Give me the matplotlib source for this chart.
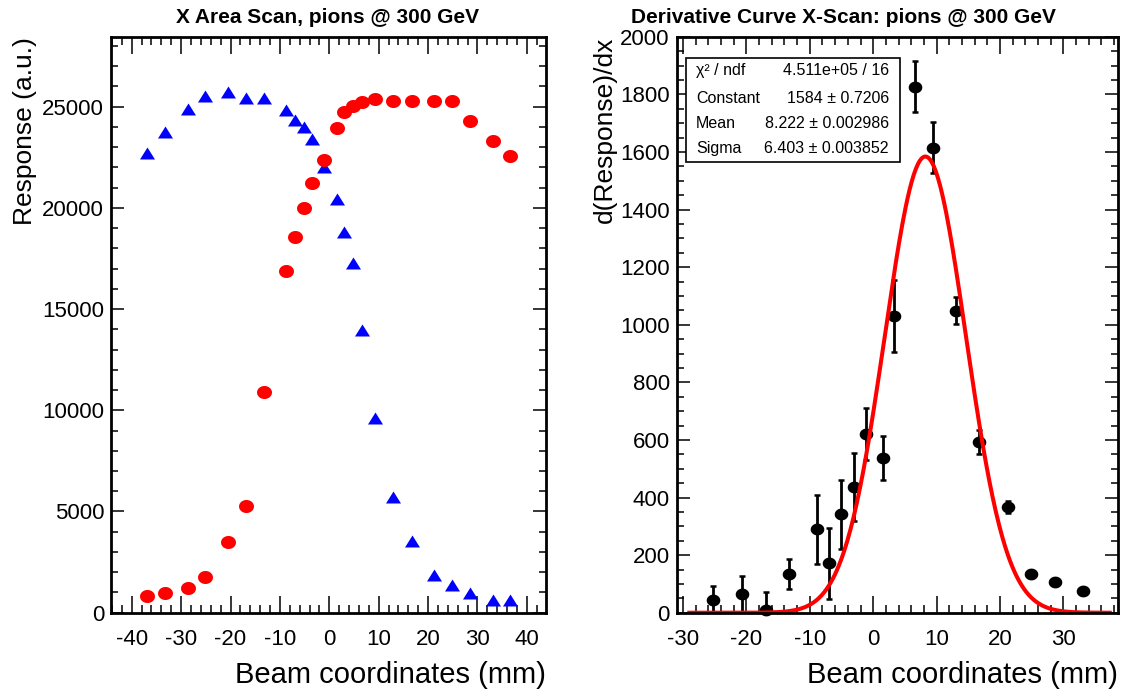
import matplotlib
matplotlib.use('Agg')
import matplotlib.pyplot as plt
import numpy as np
from matplotlib.ticker import MultipleLocator
from matplotlib.patches import Rectangle

plt.rcParams['font.family'] = ['Liberation Sans', 'DejaVu Sans']
plt.rcParams['axes.unicode_minus'] = False

# X area scan (left pad)
scan_x = [-37.0, -33.3, -28.7, -25.2, -20.6, -16.9, -13.3, -8.8, -7.0, -5.1, -3.4, -1.1,
          1.5, 3.0, 4.9, 6.7, 9.3, 13.0, 16.7, 21.2, 24.8, 28.6, 33.1, 36.7]
scan_red = [812, 960, 1223, 1752, 3515, 5282, 10910, 16880, 18550, 20000, 21206, 22375,
            23928, 24735, 25017, 25215, 25364, 25295, 25295, 25295, 25265, 24275, 23315, 22572]
scan_blue = [22720, 23760, 24880, 25527, 25710, 25443, 25413, 24834, 24340, 24008, 23384, 21998,
             20414, 18810, 17276, 13944, 9623, 5727, 3549, 1881, 1371, 975, 629, 614]

# derivative curve (right pad)
der_x = [-25.2, -20.7, -16.9, -13.3, -8.8, -6.9, -5.1, -3.0, -1.15, 1.6, 3.3, 6.6, 9.4,
         13.0, 16.7, 21.3, 24.9, 28.7, 33.1]
der_y = [43, 64, 11, 135, 290, 171, 342, 435, 620, 537, 1032, 1827, 1615,
         1049, 592, 367, 134, 108, 76]
der_err = [50, 63, 60, 51, 120, 122, 120, 118, 91, 77, 125, 88, 88,
           47, 42, 20, 0, 0, 0]

# gaussian fit result
fit_const, fit_mean, fit_sigma = 1584.0, 8.222, 6.403
fit_range = (-29.0, 37.3)
stats_labels = ['χ² / ndf', 'Constant', 'Mean', 'Sigma']
stats_values = ['4.511e+05 / 16', '1584 ± 0.7206', '8.222 ± 0.002986', '6.403 ± 0.003852']

# slightly wide markers, like the stretched ROOT canvas
t = np.linspace(0, 2 * np.pi, 41)
ellipse = np.column_stack([1.15 * np.cos(t), np.sin(t)])
triangle = [(-1, -0.8), (1, -0.8), (0, 0.8), (-1, -0.8)]


def root_style(ax):
    for s in ax.spines.values():
        s.set_linewidth(2)
    ax.tick_params(which='both', direction='in', top=True, right=True,
                   labelsize=16, width=1.1)
    ax.tick_params(axis='x', which='major', length=12, pad=11.5)
    ax.tick_params(axis='x', which='minor', length=6)
    ax.tick_params(axis='y', which='major', length=9.5, pad=5)
    ax.tick_params(axis='y', which='minor', length=5)


fig = plt.figure(figsize=(11.27, 6.94), dpi=100)

# ---- left pad
ax1 = fig.add_axes([0.0985, 0.1171, 0.386, 0.830])
ax1.plot(scan_x, scan_blue, ls='none', marker=triangle, ms=10.8, color='blue', mew=0)
ax1.plot(scan_x, scan_red, ls='none', marker=ellipse, ms=10.8, color='red', mew=0)
ax1.set_xlim(-44.2, 43.9)
ax1.set_ylim(0, 28450)
ax1.xaxis.set_major_locator(MultipleLocator(10))
ax1.xaxis.set_minor_locator(MultipleLocator(2))
ax1.yaxis.set_major_locator(MultipleLocator(5000))
ax1.yaxis.set_minor_locator(MultipleLocator(1000))
root_style(ax1)
ax1.set_xlabel('Beam coordinates (mm)', loc='right', fontsize=21)
ax1.xaxis.set_label_coords(1.0, -0.083)
ax1.set_ylabel('Response (a.u.)', loc='top', fontsize=19)
ax1.yaxis.set_label_coords(-0.17, 1.0)
fig.text(0.291, 0.975, 'X Area Scan, pions @ 300 GeV', ha='center', va='center',
         fontsize=15, fontweight='bold')

# ---- right pad
ax2 = fig.add_axes([0.6004, 0.1171, 0.3916, 0.830])
ax2.errorbar(der_x, der_y, yerr=der_err, fmt='none', ecolor='black',
             elinewidth=2.0, capsize=2, capthick=1.8)
ax2.plot(der_x, der_y, ls='none', marker=ellipse, ms=9.8, color='black', mew=0, clip_on=False)
xf = np.linspace(fit_range[0], fit_range[1], 400)
ax2.plot(xf, fit_const * np.exp(-0.5 * ((xf - fit_mean) / fit_sigma) ** 2),
         color='red', lw=2.9)
ax2.set_xlim(-31.0, 38.6)
ax2.set_ylim(0, 2000)
ax2.xaxis.set_major_locator(MultipleLocator(10))
ax2.xaxis.set_minor_locator(MultipleLocator(2))
ax2.yaxis.set_major_locator(MultipleLocator(200))
ax2.yaxis.set_minor_locator(MultipleLocator(50))
root_style(ax2)
ax2.set_xlabel('Beam coordinates (mm)', loc='right', fontsize=21)
ax2.xaxis.set_label_coords(1.0, -0.083)
ax2.set_ylabel('d(Response)/dx', loc='top', fontsize=19)
ax2.yaxis.set_label_coords(-0.135, 1.0)
fig.text(0.748, 0.975, 'Derivative Curve X-Scan: pions @ 300 GeV', ha='center', va='center',
         fontsize=15, fontweight='bold')

# stats box
ax2.add_patch(Rectangle((0.021, 0.7825), 0.485, 0.1805, transform=ax2.transAxes,
                        facecolor='white', edgecolor='black', lw=1.2, zorder=5))
rows_y = [0.9405, 0.892, 0.849, 0.806]
for lab, val, yy in zip(stats_labels, stats_values, rows_y):
    ax2.text(0.044, yy, lab, transform=ax2.transAxes, ha='left', va='center',
             fontsize=11.5, zorder=6)
    ax2.text(0.481, yy, val, transform=ax2.transAxes, ha='right', va='center',
             fontsize=11.5, zorder=6)

fig.savefig('out.png', dpi=100)
